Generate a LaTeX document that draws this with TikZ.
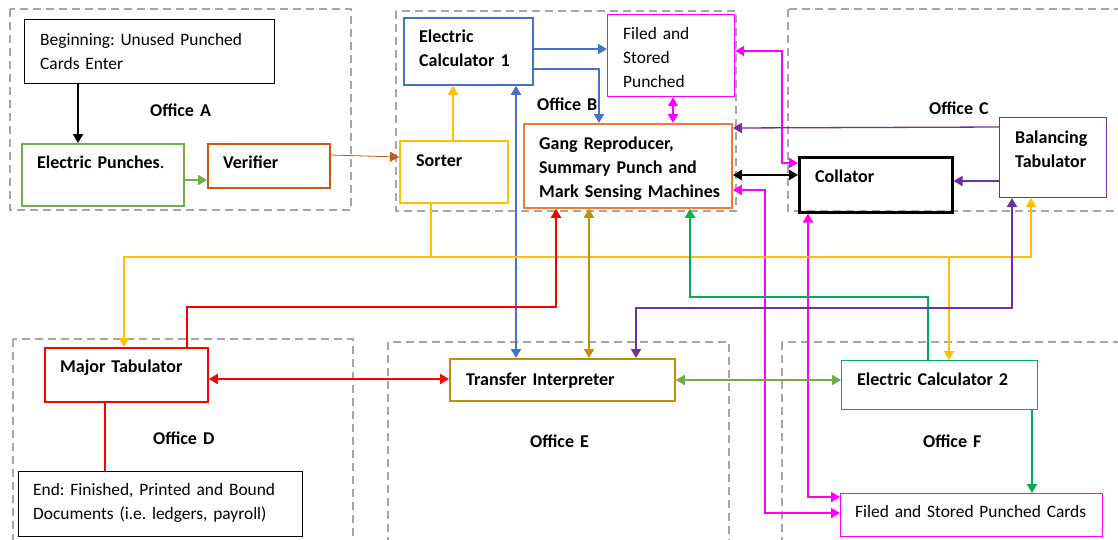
\documentclass[tikz,border=0pt]{standalone}
\usepackage{fontspec}
\setmainfont{Carlito}
\frenchspacing
\usetikzlibrary{arrows.meta}
\definecolor{officegray}{HTML}{A6A6A6}
\definecolor{punchgreen}{HTML}{70AD47}
\definecolor{calcgreen}{HTML}{00B050}
\definecolor{calcblue}{HTML}{4472C4}
\definecolor{sortyellow}{HTML}{FFC000}
\definecolor{verifbrown}{HTML}{C55A11}
\definecolor{gangorange}{HTML}{ED7D31}
\definecolor{balpurple}{HTML}{7030A0}
\definecolor{transgold}{HTML}{BF9000}
\definecolor{filedpink}{HTML}{FF00FF}
\definecolor{majorred}{HTML}{FF0000}
\begin{document}
\begin{tikzpicture}[x=1pt,y=-1pt,
  office/.style={draw=officegray, line width=1.5pt, dash pattern=on 8pt off 5pt},
  box/.style={draw=#1, line width=1.8pt, rectangle, inner sep=0pt, anchor=north west},
  txt/.style={anchor=base west, inner sep=0pt, text width=280pt, align=left,
    font=\fontsize{18}{24}\selectfont\bfseries},
  txtplain/.style={txt, font=\fontsize{17.4}{24}\selectfont},
  link/.style={draw=#1, line width=2pt},
  >={Triangle[length=9pt,width=10pt]}]
   \path[fill=white,use as bounding box] (0,0) rectangle (1118,539);

   % offices
   \draw[office] (10,9) rectangle (351,210);
   \draw[office] (396,11) rectangle (736,211);
   \draw[office] (788,9) rectangle (1130,211);
   \draw[office] (13,339) rectangle (353,560);
   \draw[office] (388,342) rectangle (729,560);
   \draw[office] (782,342) rectangle (1130,560);
   \node[txt] (officeA) at (150,116) {Office A};
   \node[txt] (officeB) at (537,110) {Office B};
   \node[txt] (officeC) at (929,114) {Office C};
   \node[txt] (officeD) at (153,444) {Office D};
   \node[txt] (officeE) at (530,447) {Office E};
   \node[txt] (officeF) at (923,447) {Office F};

   % machines
   \node[box=black, line width=1pt, minimum width=250pt, minimum height=64pt] (begin) at (24,19) {};
   \node[box=punchgreen, minimum width=162pt, minimum height=62pt] (punch) at (21,143) {};
   \node[box=verifbrown, minimum width=122pt, minimum height=44pt] (verif) at (207,143) {};
   \node[box=sortyellow, minimum width=108pt, minimum height=62pt] (sorter) at (399,140) {};
   \node[box=calcblue, minimum width=129pt, minimum height=67pt] (calcA) at (403,17) {};
   \node[box=filedpink, line width=1.2pt, minimum width=127pt, minimum height=82pt] (filedA) at (607,14) {};
   \node[box=gangorange, minimum width=208pt, minimum height=84pt] (gang) at (523,123) {};
   \node[box=black, line width=2.5pt, minimum width=153pt, minimum height=55pt] (collator) at (798,156) {};
   \node[box=balpurple, line width=1pt, minimum width=107pt, minimum height=80pt] (baltab) at (999,117) {};
   \node[box=majorred, minimum width=163pt, minimum height=54pt] (major) at (44,347) {};
   \node[box=black, line width=1pt, minimum width=284pt, minimum height=65pt] (finish) at (18,471) {};
   \node[box=transgold, minimum width=225pt, minimum height=42pt] (transfer) at (449,358) {};
   \node[box=calcgreen, line width=1pt, minimum width=196pt, minimum height=49pt] (calcB) at (841,360) {};
   \node[box=filedpink, line width=1.2pt, minimum width=262pt, minimum height=43pt] (filedB) at (840,493) {};

   \node[txtplain] (beginText) at (40,45) {Beginning: Unused Punched\\Cards Enter};
   \node[txt] (punchText) at (37,168) {Electric Punches{\mdseries.}};
   \node[txt] (verifText) at (223,168) {Verifier};
   \node[txt] (sorterText) at (416,166) {Sorter};
   \node[txt] (calcAText) at (419,42) {Electric\\Calculator 1};
   \node[txtplain] (filedAText) at (623,39) {Filed and\\Stored\\Punched};
   \node[txt] (gangText) at (539,149) {Gang Reproducer,\\Summary Punch and\\Mark Sensing Machines};
   \node[txt] (collatorText) at (815,182) {Collator};
   \node[txt] (baltabText) at (1015,143) {Balancing\\Tabulator};
   \node[txt] (majorText) at (60,372) {Major Tabulator};
   \node[txtplain] (finishText) at (33,495) {End: Finished, Printed and Bound\\Documents (i.e. ledgers, payroll)};
   \node[txt] (transferText) at (466,385) {Transfer Interpreter};
   \node[txt] (calcBText) at (857,385) {Electric Calculator 2};
   \node[txtplain] (filedBText) at (855,517) {Filed and Stored Punched Cards};

   % card flow
   \coordinate (sortbus) at (431,257);
   \draw[link=black,->] (78,0 |- begin.south) -- (78,0 |- punch.north);
   \draw[link=punchgreen,->] (punch.east |- 0,180) -- (verif.west |- 0,180);
   \draw[link=verifbrown,line width=0.8pt,->] (verif.east |- 0,155) -- (sorter.west |- 0,157);
   \draw[link=sortyellow,->] (453,0 |- sorter.north) -- (453,0 |- calcA.south);
   \draw[link=calcblue,->] (calcA.east |- 0,49) -- (filedA.west |- 0,49);
   \draw[link=calcblue,->] (calcA.east |- 0,69) -| (599,0 |- gang.north);
   \draw[link=calcblue,<->] (516,0 |- calcA.south) -- (516,0 |- transfer.north);
   \draw[link=filedpink,<->] (673,0 |- filedA.south) -- (673,0 |- gang.north);
   \draw[link=filedpink,<->] (filedA.east |- 0,51) -| (782,163) -- (collator.west |- 0,163);
   \draw[link=balpurple,line width=1.3pt,->] (baltab.west |- 0,127) -- (gang.east |- 0,128);
   \draw[link=black,<->] (gang.east |- 0,175) -- (collator.west |- 0,175);
   \draw[link=balpurple,->] (baltab.west |- 0,181) -- (collator.east |- 0,181);
   \draw[link=filedpink,<->] (gang.east |- 0,190) -| (765,513) -- (filedB.west |- 0,513);
   \draw[link=filedpink,<->] (808,0 |- collator.south) |- (filedB.west |- 0,497);
   \draw[link=sortyellow] (431,0 |- sorter.south) -- (sortbus);
   \draw[link=sortyellow,->] (sortbus) -| (124,0 |- major.north);
   \draw[link=sortyellow,->] (sortbus) -| (1031,0 |- baltab.south);
   \draw[link=sortyellow,->] (sortbus -| 949,0) -- (949,0 |- calcB.north);
   \draw[link=majorred,->] (187,0 |- major.north) |- (556,307) -- (556,0 |- gang.south);
   \draw[link=majorred,<->] (major.east |- 0,379) -- (transfer.west |- 0,379);
   \draw[link=majorred] (105,0 |- major.south) -- (105,0 |- finish.north);
   \draw[link=transgold,<->] (589,0 |- gang.south) -- (589,0 |- transfer.north);
   \draw[link=calcgreen,->] (928,0 |- calcB.north) |- (690,297) -- (690,0 |- gang.south);
   \draw[link=balpurple,<->] (1012,0 |- baltab.south) |- (636,308) -- (636,0 |- transfer.north);
   \draw[link=punchgreen,<->] (transfer.east |- 0,380) -- (calcB.west |- 0,380);
   \draw[link=calcgreen,->] (1032,0 |- calcB.south) -- (1032,0 |- filedB.north);
\end{tikzpicture}
\end{document}
